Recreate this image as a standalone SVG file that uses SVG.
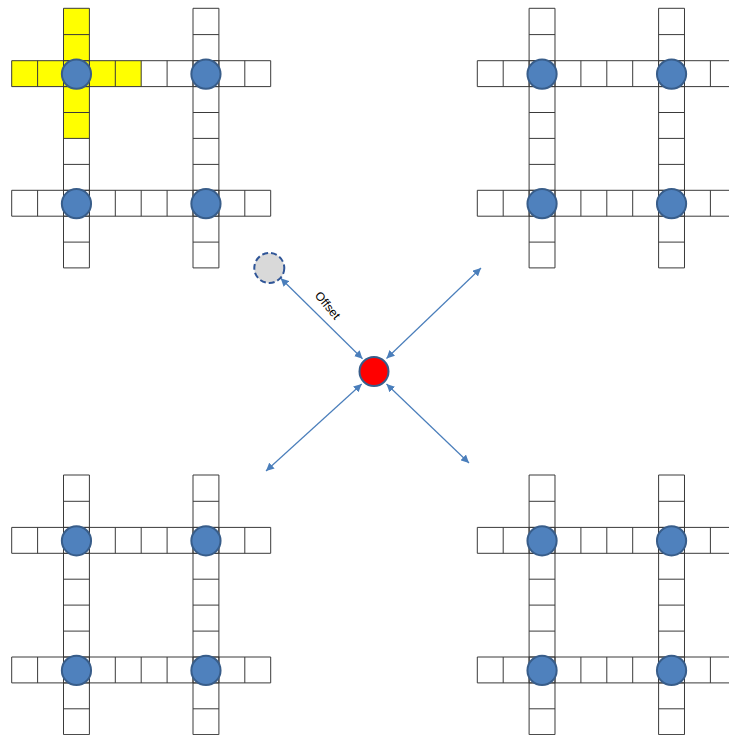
<svg xmlns="http://www.w3.org/2000/svg" xmlns:xlink="http://www.w3.org/1999/xlink" width="729" height="735" viewBox="0 0 729 735">
<style>
.grid{fill:none;stroke:#3a3a3a;stroke-width:1}
.pt{fill:#4f81bd;stroke:#385d8a;stroke-width:2}
.yel{fill:#ffff00;stroke:none}
.arr{stroke:#4a7ebb;stroke-width:1.2;fill:none;marker-start:url(#ah);marker-end:url(#ah)}
.lbl{font-family:"Liberation Sans","Open Sans",sans-serif;font-size:12px;fill:#000}
</style>
<defs>
<marker id="ah" viewBox="0 0 10 10" refX="10" refY="5" markerWidth="8" markerHeight="8" markerUnits="userSpaceOnUse" orient="auto-start-reverse">
<path d="M0 0L10 5L0 10Z" fill="#4a7ebb"/>
</marker>
<g id="cluster">
<path class="grid" d="M0 52.4H259V78.3H0Z M25.9 52.4V78.3 M51.8 52.4V78.3 M77.7 52.4V78.3 M103.6 52.4V78.3 M129.5 52.4V78.3 M155.4 52.4V78.3 M181.3 52.4V78.3 M207.2 52.4V78.3 M233.1 52.4V78.3"/>
<path class="grid" d="M0 182H259V207.9H0Z M25.9 182V207.9 M51.8 182V207.9 M77.7 182V207.9 M103.6 182V207.9 M129.5 182V207.9 M155.4 182V207.9 M181.3 182V207.9 M207.2 182V207.9 M233.1 182V207.9"/>
<path class="grid" d="M51.8 0V259.6H77.7V0Z M51.8 26.3H77.7 M51.8 52.4H77.7 M51.8 78.3H77.7 M51.8 104.2H77.7 M51.8 130.1H77.7 M51.8 156.1H77.7 M51.8 182H77.7 M51.8 207.9H77.7 M51.8 233.8H77.7"/>
<path class="grid" d="M181.3 0V259.6H207.2V0Z M181.3 26.3H207.2 M181.3 52.4H207.2 M181.3 78.3H207.2 M181.3 104.2H207.2 M181.3 130.1H207.2 M181.3 156.1H207.2 M181.3 182H207.2 M181.3 207.9H207.2 M181.3 233.8H207.2"/>
<circle class="pt" cx="64.75" cy="65.8" r="14.6"/>
<circle class="pt" cx="194.25" cy="65.8" r="14.6"/>
<circle class="pt" cx="64.75" cy="195.4" r="14.6"/>
<circle class="pt" cx="194.25" cy="195.4" r="14.6"/>
</g>
</defs>
<rect width="729" height="735" fill="#fff"/>
<g id="grid-top-left" transform="translate(11.7 8.3)">
<rect class="yel" x="51.8" y="0" width="25.9" height="130.1"/>
<rect class="yel" x="0" y="52.4" width="129.5" height="25.9"/>
<use xlink:href="#cluster"/>
</g>
<g id="grid-top-right" transform="translate(477.3 8.3)"><use xlink:href="#cluster"/></g>
<g id="grid-bottom-left" transform="translate(11.7 475)"><use xlink:href="#cluster"/></g>
<g id="grid-bottom-right" transform="translate(477.3 475)"><use xlink:href="#cluster"/></g>
<g id="connectors">
<line class="arr" x1="280.7" y1="278.3" x2="362.5" y2="358.8"/>
<line class="arr" x1="386.5" y1="358.5" x2="481" y2="268"/>
<line class="arr" x1="361.7" y1="384" x2="266" y2="471"/>
<line class="arr" x1="386.5" y1="384" x2="469" y2="463"/>
<text class="lbl" transform="translate(327 306) rotate(50)" text-anchor="middle" dominant-baseline="middle">Offset</text>
</g>
<g id="offset-point"><circle cx="269.3" cy="268" r="15" fill="#d9d9d9" stroke="#2f5597" stroke-width="2" stroke-dasharray="6 3"/></g>
<g id="center-point"><circle cx="374" cy="371.5" r="14.5" fill="#ff0000" stroke="#385d8a" stroke-width="2"/></g>
</svg>
